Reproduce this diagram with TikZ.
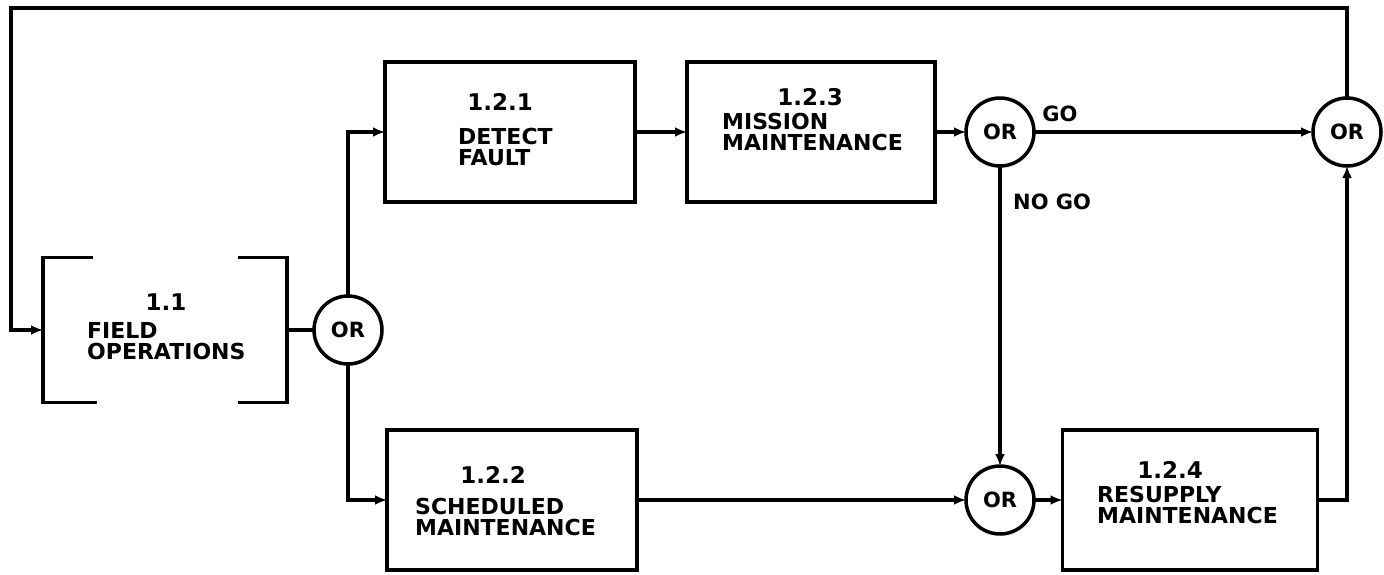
\documentclass[tikz,border=0pt]{standalone}
\usepackage{fontspec}
\setmainfont{DejaVu Sans}
\usetikzlibrary{arrows.meta,positioning,calc}

\begin{document}
\begin{tikzpicture}[x=1pt,y=-1pt,
    blk/.style={draw,line width=3.5pt,minimum width=250pt,minimum height=140pt,outer sep=0pt},
    orgate/.style={draw,circle,line width=3.5pt,minimum size=68pt,inner sep=0pt,outer sep=0pt,font=\bfseries\fontsize{21}{21}\selectfont},
    numtext/.style={inner sep=0pt,font=\bfseries\fontsize{23}{23}\selectfont},
    boxtext/.style={inner sep=0pt,anchor=west,align=left,font=\bfseries\fontsize{22}{21.5}\selectfont},
    lbl/.style={inner sep=0pt,font=\bfseries\fontsize{21}{21}\selectfont},
    link/.style={line width=3.5pt},
    flow/.style={line width=3.5pt,-{Latex[length=12pt,width=10pt]}}]
    \useasboundingbox (0,0) rectangle (1384,575);
    % field operations (open brackets)
    \node[draw=none,minimum width=244pt,minimum height=145pt,outer sep=0pt] (field) at (165,330) {};
    \draw[link] ([xshift=50pt]field.north west) -| (field.south west) -- ++(54,0);
    \draw[link] ([xshift=-49pt]field.north east) -| (field.south east) -- ++(-49,0);
    \node[numtext] (fieldnum) at (166,302) {1.1};
    \node[boxtext] (fieldname) at (87,341) {FIELD\\OPERATIONS};
    % gates
    \node[orgate] (orA) at (348,330) {OR};
    \node[orgate] (orB) at (1000,132) {OR};
    \node[orgate] (orC) at (1000,500) {OR};
    \node[orgate] (orD) at (1347,132) {OR};
    % upper row
    \node[blk] (detect) at (510,132) {};
    \node[numtext] (detectnum) at (500,102) {1.2.1};
    \node[boxtext] (detectname) at (458,147) {DETECT\\FAULT};
    \node[blk,minimum width=248pt] (mission) at (811,132) {};
    \node[numtext] (missionnum) at (810,97) {1.2.3};
    \node[boxtext] (missionname) at (722,132) {MISSION\\MAINTENANCE};
    % lower row
    \node[blk] (sched) at (512,500) {};
    \node[numtext] (schednum) at (493,475) {1.2.2};
    \node[boxtext] (schedname) at (415,517) {SCHEDULED\\MAINTENANCE};
    \node[blk,minimum width=255pt] (resup) at (1190,500) {};
    \node[numtext] (resupnum) at (1170,470) {1.2.4};
    \node[boxtext] (resupname) at (1097,505) {RESUPPLY\\MAINTENANCE};
    % connectors
    \coordinate (corner) at (11,8);
    \draw[flow] (orD.north) |- (corner) |- (field.west);
    \draw[link] (field.east) -- (orA.west);
    \draw[flow] (orA.north) |- (detect.west);
    \draw[flow] (orA.south) |- (sched.west);
    \draw[flow] (detect.east) -- (mission.west);
    \draw[flow] (mission.east) -- (orB.west);
    \draw[flow] (orB.east) -- (orD.west);
    \draw[flow] (orB.south) -- (orC.north);
    \draw[flow] (sched.east) -- (orC.west);
    \draw[flow] (orC.east) -- (resup.west);
    \draw[flow] (resup.east) -| (orD.south);
    \node[lbl] (go) at (1060,114) {GO};
    \node[lbl,anchor=west] (nogo) at (1013,202) {NO GO};
\end{tikzpicture}
\end{document}
